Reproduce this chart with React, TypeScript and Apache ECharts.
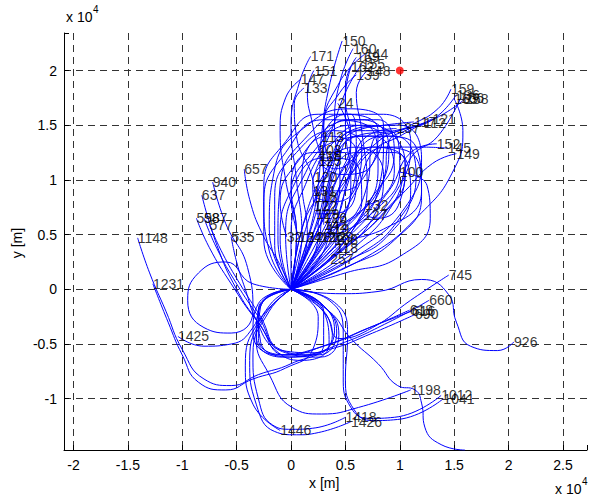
import React, { useEffect, useRef } from "react";
import * as echarts from "echarts";

type Pt = [number, number];
interface Track { label: string; pts: Pt[] }

// Positions are in units of 10^4 m (as shown by the "x 10^4" axis multipliers)
const topTracks: Track[] = [
  { label: "150", pts: [[0, 0], [0.15, 0.45], [0.25, 0.95], [0.28, 1.4], [0.35, 1.85], [0.47, 2.27]] },
  { label: "160", pts: [[0, 0], [0.3, 0.5], [0.45, 1.0], [0.4, 1.5], [0.45, 1.9], [0.57, 2.2]] },
  { label: "171", pts: [[0, 0], [0.1, 0.5], [0.05, 1.0], [0.0, 1.5], [0.08, 1.9], [0.18, 2.13]] },
  { label: "151", pts: [[0, 0], [0.2, 0.5], [0.3, 1.0], [0.2, 1.5], [0.15, 1.8], [0.21, 2.0]] },
  { label: "147", pts: [[0, 0], [0.05, 0.5], [-0.05, 1.0], [-0.1, 1.45], [-0.05, 1.75], [0.09, 1.92]] },
  { label: "133", pts: [[0, 0], [0.25, 0.5], [0.2, 1.0], [0.05, 1.4], [0.03, 1.7], [0.12, 1.84]] },
  { label: "169", pts: [[0, 0], [0.4, 0.5], [0.55, 1.0], [0.5, 1.5], [0.5, 1.85], [0.6, 2.12]] },
  { label: "155", pts: [[0, 0], [0.0, 0.5], [0.15, 1.0], [0.35, 1.4], [0.5, 1.8], [0.65, 2.06]] },
  { label: "162", pts: [[0, 0], [0.2, 0.5], [0.4, 0.95], [0.55, 1.4], [0.5, 1.75], [0.55, 2.03]] },
  { label: "148", pts: [[0, 0], [0.5, 0.45], [0.7, 0.95], [0.65, 1.45], [0.6, 1.8], [0.7, 2.0]] },
  { label: "139", pts: [[0, 0], [0.1, 0.55], [0.3, 1.1], [0.3, 1.5], [0.45, 1.8], [0.6, 1.96]] },
  { label: "144", pts: [[0, 0], [0.35, 0.55], [0.35, 1.05], [0.3, 1.45], [0.45, 1.9], [0.68, 2.15]] },
];

const rightTracks: Track[] = [
  { label: "159", pts: [[0, 0], [0.3, 0.55], [0.55, 1.05], [0.8, 1.35], [1.1, 1.5], [1.35, 1.65], [1.47, 1.83]] },
  { label: "136", pts: [[0, 0], [0.45, 0.5], [0.7, 0.95], [0.75, 1.35], [1.0, 1.45], [1.3, 1.55], [1.52, 1.78]] },
  { label: "166", pts: [[0, 0], [0.6, 0.4], [0.95, 0.8], [1.1, 1.2], [1.35, 1.4], [1.56, 1.75]] },
  { label: "158", pts: [[0, 0], [0.15, 0.6], [0.35, 1.1], [0.6, 1.4], [0.95, 1.45], [1.3, 1.55], [1.6, 1.74]] },
  { label: "163", pts: [[0, 0], [0.7, 0.3], [1.2, 0.7], [1.5, 1.1], [1.58, 1.45], [1.5, 1.74]] },
  { label: "137", pts: [[0, 0], [0.4, 0.6], [0.55, 1.1], [0.7, 1.4], [0.97, 1.47]] },
  { label: "117", pts: [[0, 0], [0.2, 0.6], [0.35, 1.1], [0.55, 1.45], [0.85, 1.5], [1.13, 1.53]] },
  { label: "112", pts: [[0, 0], [0.55, 0.55], [0.85, 1.0], [0.9, 1.35], [1.05, 1.45], [1.22, 1.52]] },
  { label: "121", pts: [[0, 0], [0.3, 0.45], [0.6, 0.9], [0.75, 1.25], [1.0, 1.4], [1.3, 1.56]] },
  { label: "152", pts: [[0, 0], [0.5, 0.45], [0.9, 0.9], [1.1, 1.25], [1.34, 1.33]] },
  { label: "145", pts: [[0, 0], [0.25, 0.55], [0.55, 1.05], [0.9, 1.3], [1.2, 1.3], [1.44, 1.29]] },
  { label: "149", pts: [[0, 0], [0.65, 0.5], [1.05, 0.9], [1.3, 1.15], [1.52, 1.24]] },
];

const centralTracks: Track[] = [
  { label: "24", pts: [[0, 0], [0.2, 0.45], [0.45, 0.95], [0.55, 1.35], [0.43, 1.7]] },
  { label: "103", pts: [[0, 0], [0.35, 0.4], [0.75, 0.85], [0.95, 1.25], [0.8, 1.55], [0.5, 1.55], [0.25, 1.27]] },
  { label: "125", pts: [[0, 0], [-0.12, 0.45], [-0.1, 0.95], [0.15, 1.4], [0.5, 1.6], [0.8, 1.45], [0.75, 1.15], [0.45, 1.05], [0.25, 1.17]] },
  { label: "120", pts: [[0, 0], [0.45, 0.35], [0.85, 0.7], [1.05, 1.05], [0.95, 1.4], [0.65, 1.5], [0.35, 1.3], [0.21, 1.03]] },
  { label: "113", pts: [[0, 0], [0.55, 0.45], [1.0, 0.95], [1.1, 1.35], [0.85, 1.6], [0.5, 1.6], [0.28, 1.39]] },
  { label: "118", pts: [[0, 0], [-0.15, 0.4], [-0.15, 0.85], [0.05, 1.25], [0.4, 1.45], [0.65, 1.3], [0.6, 0.95], [0.4, 0.8], [0.22, 0.84]] },
  { label: "122", pts: [[0, 0], [0.4, 0.3], [0.75, 0.65], [0.85, 1.05], [0.6, 1.3], [0.3, 1.15], [0.2, 0.95], [0.21, 0.76]] },
  { label: "129", pts: [[0, 0], [0.05, 0.5], [0.0, 0.95], [0.2, 1.25], [0.5, 1.25], [0.6, 0.95], [0.45, 0.7], [0.23, 0.69]] },
  { label: "142", pts: [[0, 0], [0.5, 0.25], [0.9, 0.5], [1.1, 0.9], [0.95, 1.25], [0.6, 1.25], [0.35, 0.95], [0.3, 0.59]] },
  { label: "132", pts: [[0, 0], [-0.05, 0.5], [0.1, 1.0], [0.4, 1.35], [0.75, 1.4], [0.95, 1.1], [0.85, 0.85], [0.68, 0.77]] },
  { label: "127", pts: [[0, 0], [0.25, 0.55], [0.45, 1.05], [0.75, 1.3], [1.05, 1.15], [1.0, 0.8], [0.8, 0.65], [0.67, 0.68]] },
  { label: "32", pts: [[0, 0], [0.3, 0.4], [0.55, 0.85], [0.6, 1.25], [0.35, 1.4], [0.05, 1.15], [-0.1, 0.8], [-0.04, 0.48]] },
  { label: "124", pts: [[0, 0], [0.45, 0.45], [0.8, 0.9], [0.85, 1.35], [0.55, 1.5], [0.2, 1.25], [0.0, 0.85], [0.07, 0.48]] },
  { label: "128", pts: [[0, 0], [-0.1, 0.45], [0.0, 0.9], [0.3, 1.2], [0.6, 1.15], [0.65, 0.8], [0.4, 0.55], [0.16, 0.48]] },
  { label: "126", pts: [[0, 0], [0.6, 0.35], [1.05, 0.75], [1.2, 1.2], [1.0, 1.5], [0.6, 1.45], [0.35, 1.0], [0.27, 0.48]] },
  { label: "129", pts: [[0, 0], [0.1, 0.55], [0.3, 1.05], [0.6, 1.45], [0.9, 1.45], [1.0, 1.1], [0.75, 0.7], [0.36, 0.48]] },
  { label: "118", pts: [[0, 0], [0.5, 0.2], [0.95, 0.45], [1.2, 0.85], [1.1, 1.25], [0.75, 1.3], [0.5, 0.9], [0.41, 0.38]] },
  { label: "257", pts: [[0, 0], [-0.2, 0.35], [-0.25, 0.8], [-0.05, 1.25], [0.3, 1.55], [0.7, 1.5], [0.8, 1.1], [0.6, 0.6], [0.36, 0.28]] },
  { label: "100", pts: [[0, 0], [0.5, 0.15], [1.0, 0.3], [1.28, 0.65], [1.25, 0.95], [1.0, 1.07]] },
  { label: "119", pts: [[0, 0], [0.15, 0.5], [0.1, 1.0], [0.3, 1.45], [0.65, 1.55], [0.9, 1.3], [0.8, 0.9], [0.55, 0.65], [0.33, 0.55]] },
  { label: "126", pts: [[0, 0], [0.6, 0.3], [1.0, 0.65], [1.15, 1.05], [0.95, 1.4], [0.6, 1.4], [0.4, 1.05], [0.3, 0.65]] },
  { label: "131", pts: [[0, 0], [-0.2, 0.55], [-0.15, 1.1], [0.15, 1.5], [0.55, 1.65], [0.85, 1.5], [0.75, 1.15], [0.45, 0.9], [0.2, 0.9]] },
  { label: "108", pts: [[0, 0], [0.35, 0.55], [0.5, 1.05], [0.85, 1.4], [1.15, 1.3], [1.2, 0.9], [0.85, 0.55], [0.4, 0.45]] },
  { label: "115", pts: [[0, 0], [-0.25, 0.45], [-0.25, 0.95], [-0.05, 1.35], [0.25, 1.6], [0.55, 1.6], [0.6, 1.3], [0.4, 1.1], [0.26, 1.22]] },
];

const leftTracks: Track[] = [
  { label: "657", pts: [[0, 0], [-0.11, 0.24], [-0.27, 0.52], [-0.38, 0.82], [-0.43, 1.1]] },
  { label: "940", pts: [[0, 0], [-0.35, 0.05], [-0.6, 0.25], [-0.85, 0.15], [-0.95, -0.1], [-0.8, -0.35], [-0.55, -0.4], [-0.35, -0.2], [-0.4, 0.2], [-0.6, 0.6], [-0.72, 0.98]] },
  { label: "637", pts: [[0, 0], [0.3, -0.15], [0.42, -0.4], [0.25, -0.6], [-0.05, -0.6], [-0.3, -0.3], [-0.5, 0.0], [-0.68, 0.4], [-0.82, 0.86]] },
  { label: "598", pts: [[0, 0], [0.32, -0.17], [0.44, -0.42], [0.27, -0.62], [-0.05, -0.58], [-0.32, -0.28], [-0.55, 0.05], [-0.75, 0.38], [-0.87, 0.65]] },
  { label: "587", pts: [[0, 0], [0.28, -0.13], [0.4, -0.38], [0.22, -0.58], [-0.08, -0.56], [-0.3, -0.25], [-0.5, 0.05], [-0.68, 0.37], [-0.8, 0.65]] },
  { label: "577", pts: [[0, 0], [0.25, -0.15], [0.38, -0.42], [0.2, -0.6], [-0.1, -0.55], [-0.28, -0.25], [-0.47, 0.05], [-0.63, 0.33], [-0.75, 0.59]] },
  { label: "535", pts: [[0, 0], [0.3, -0.2], [0.35, -0.5], [0.1, -0.65], [-0.15, -0.55], [-0.32, -0.28], [-0.42, 0.0], [-0.5, 0.25], [-0.55, 0.48]] },
  { label: "1148", pts: [[0, 0], [0.3, -0.2], [0.3, -0.5], [0.0, -0.68], [-0.3, -0.78], [-0.55, -0.88], [-0.8, -0.82], [-1.0, -0.55], [-1.15, -0.2], [-1.3, 0.15], [-1.41, 0.47]] },
  { label: "1231", pts: [[0, 0], [0.25, -0.25], [0.2, -0.55], [-0.05, -0.72], [-0.35, -0.82], [-0.6, -0.92], [-0.85, -0.85], [-1.0, -0.6], [-1.13, -0.3], [-1.27, 0.05]] },
  { label: "1425", pts: [[0, 0], [-0.25, -0.1], [-0.35, -0.35], [-0.55, -0.5], [-0.8, -0.52], [-1.04, -0.43]] },
];

const lowerTracks: Track[] = [
  { label: "618", pts: [[0, 0], [-0.3, -0.13], [-0.35, -0.4], [-0.12, -0.6], [0.3, -0.52], [0.7, -0.36], [1.09, -0.19]] },
  { label: "690", pts: [[0, 0], [-0.25, -0.1], [-0.32, -0.42], [-0.08, -0.62], [0.35, -0.55], [0.75, -0.4], [1.14, -0.23]] },
  { label: "616", pts: [[0, 0], [-0.28, -0.16], [-0.3, -0.45], [-0.05, -0.6], [0.35, -0.5], [0.72, -0.35], [1.11, -0.2]] },
  { label: "660", pts: [[0, 0], [-0.3, -0.18], [-0.28, -0.48], [0.02, -0.62], [0.45, -0.5], [0.9, -0.3], [1.27, -0.1]] },
  { label: "745", pts: [[0, 0], [0.3, -0.2], [0.45, -0.45], [0.75, -0.35], [1.1, -0.1], [1.45, 0.13]] },
  { label: "926", pts: [[0, 0], [0.45, -0.04], [0.8, -0.02], [1.2, 0.09], [1.45, -0.05], [1.52, -0.3], [1.65, -0.52], [1.9, -0.56], [2.05, -0.48]] },
  { label: "1198", pts: [[0, 0], [-0.2, -0.15], [-0.32, -0.45], [-0.2, -0.78], [0.01, -1.08], [0.28, -1.14], [0.62, -1.08], [1.1, -0.92]] },
  { label: "1012", pts: [[0, 0], [0.35, -0.1], [0.48, -0.4], [0.48, -0.8], [0.55, -1.08], [0.72, -1.18], [0.95, -1.17], [1.38, -0.97]] },
  { label: "1041", pts: [[0, 0], [0.4, -0.12], [0.52, -0.42], [0.5, -0.82], [0.58, -1.1], [0.75, -1.2], [0.98, -1.19], [1.4, -1.0]] },
  { label: "1418", pts: [[0, 0], [-0.2, -0.2], [-0.35, -0.6], [-0.3, -1.0], [-0.17, -1.24], [0.01, -1.28], [0.2, -1.27], [0.5, -1.17]] },
  { label: "1426", pts: [[0, 0], [-0.25, -0.25], [-0.38, -0.65], [-0.32, -1.05], [-0.15, -1.3], [0.05, -1.33], [0.25, -1.31], [0.55, -1.21]] },
  { label: "1446", pts: [[0, 0], [-0.3, -0.3], [-0.42, -0.7], [-0.35, -1.05], [-0.1, -1.29]] },
  { label: "1517", pts: [[0, 0], [0.35, -0.2], [0.55, -0.45], [0.8, -0.68], [0.98, -0.88], [1.14, -0.92], [1.2, -1.04], [1.23, -1.26], [1.38, -1.42], [1.6, -1.47]] },
];

const targetPoint: Pt = [1.0, 2.0];
const xTickValues = [-2, -1.5, -1, -0.5, 0, 0.5, 1, 1.5, 2, 2.5];
const yTickValues = [-1, -0.5, 0, 0.5, 1, 1.5, 2];
const xLabel = "x [m]";
const yLabel = "y [m]";

const FONT = "'Liberation Sans', Arial, Helvetica, sans-serif";

function isTick(v: number, list: number[]) {
  return list.some((t) => Math.abs(t - v) < 1e-6);
}

export default function App() {
  const ref = useRef<HTMLDivElement>(null);
  useEffect(() => {
    if (!ref.current) return;
    const chart = echarts.init(ref.current, undefined, { renderer: "svg" });
    const all = [...topTracks, ...rightTracks, ...centralTracks, ...leftTracks, ...lowerTracks];
    const lineSeries = all.map((t) => ({
      type: "line",
      data: t.pts,
      showSymbol: false,
      symbol: "none",
      smooth: 0.5,
      silent: true,
      lineStyle: { color: "#0000ff", width: 1 },
      z: 2,
    }));
    const endData = all.map((t) => {
      const p = t.pts[t.pts.length - 1];
      return [p[0], p[1], t.label];
    });
    const axisCommon = {
      type: "value",
      minInterval: 0.5,
      maxInterval: 0.5,
      axisLine: { show: true, onZero: false, lineStyle: { color: "#000", width: 1 } },
      axisTick: { show: true, inside: true, length: 5, lineStyle: { color: "#000" } },
      splitLine: {
        show: true,
        showMinLine: false,
        showMaxLine: false,
        lineStyle: { color: "#333", width: 1, type: [7, 5] },
      },
    };
    chart.setOption({
      animation: false,
      backgroundColor: "#fff",
      grid: { left: 64, top: 33, right: 0, bottom: 51, containLabel: false },
      xAxis: {
        ...axisCommon,
        min: -2.087,
        max: 2.721,
        axisLabel: {
          color: "#000",
          fontSize: 14,
          fontFamily: FONT,
          margin: 8,
          formatter: (v: number) => (isTick(v, xTickValues) ? String(Math.round(v * 10) / 10) : ""),
        },
      },
      yAxis: {
        ...axisCommon,
        min: -1.469,
        max: 2.343,
        axisLabel: {
          color: "#000",
          fontSize: 14,
          fontFamily: FONT,
          margin: 7,
          formatter: (v: number) => (isTick(v, yTickValues) ? String(Math.round(v * 10) / 10) : ""),
        },
      },
      series: [
        ...lineSeries,
        {
          type: "scatter",
          data: endData,
          symbolSize: 0.1,
          silent: true,
          itemStyle: { color: "rgba(0,0,0,0)" },
          label: {
            show: true,
            position: "right",
            distance: 0,
            formatter: (p: any) => p.data[2],
            color: "#000",
            fontSize: 14,
            fontFamily: FONT,
          },
          z: 5,
        },
        {
          type: "scatter",
          data: [targetPoint],
          symbolSize: 8,
          silent: true,
          itemStyle: { color: "#ff0000" },
          z: 6,
        },
      ],
      graphic: [
        { type: "text", left: 66, top: 10, style: { text: "x 10", fontSize: 14, fontFamily: FONT, fill: "#000" } },
        { type: "text", left: 93, top: 4, style: { text: "4", fontSize: 10, fontFamily: FONT, fill: "#000" } },
        { type: "text", left: 555, top: 482, style: { text: "x 10", fontSize: 14, fontFamily: FONT, fill: "#000" } },
        { type: "text", left: 582, top: 476, style: { text: "4", fontSize: 10, fontFamily: FONT, fill: "#000" } },
        { type: "text", left: 309, top: 476, style: { text: xLabel, fontSize: 14, fontFamily: FONT, fill: "#000" } },
        {
          type: "text",
          x: 17,
          y: 243,
          rotation: Math.PI / 2,
          style: { text: yLabel, fontSize: 14, fontFamily: FONT, fill: "#000", align: "center", verticalAlign: "middle" },
        },
      ],
    });
    return () => chart.dispose();
  }, []);
  return (
    <div
      ref={ref}
      style={{ position: "fixed", left: 0, top: 0, width: 590, height: 501, background: "#fff" }}
    />
  );
}
